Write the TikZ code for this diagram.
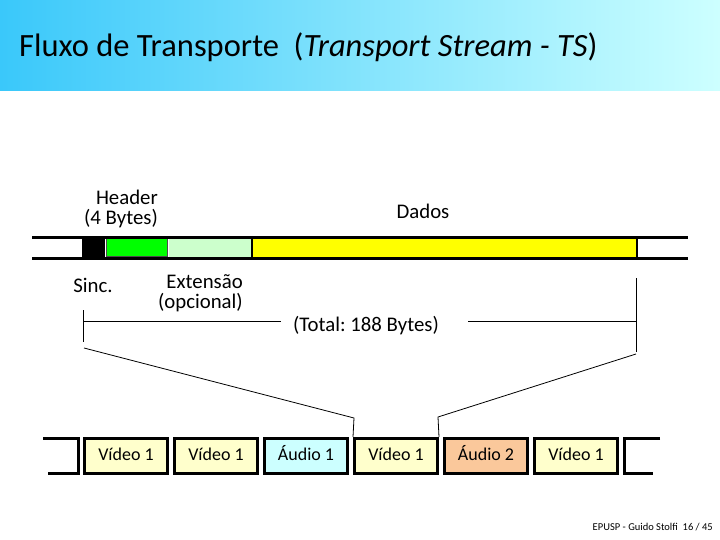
\documentclass[tikz,border=0pt]{standalone}
\usepackage{fontspec}
\setmainfont{Carlito}
\usetikzlibrary{positioning}
\definecolor{tsSky}{RGB}{58,200,250}
\definecolor{tsIce}{RGB}{205,255,255}
\definecolor{tsGreen}{RGB}{0,255,0}
\definecolor{tsMint}{RGB}{204,255,204}
\definecolor{tsYellow}{RGB}{255,255,0}
\definecolor{tsCream}{RGB}{255,255,204}
\definecolor{tsCyan}{RGB}{204,255,255}
\definecolor{tsPeach}{RGB}{250,200,155}
\tikzset{
  lbl/.style={inner sep=0pt, font=\fontsize{20.8}{20}\selectfont},
  pkt/.style={draw=black, line width=3pt, minimum width=83pt, minimum height=35pt,
    inner sep=0pt, text height=12pt, text depth=3pt, font=\fontsize{18}{18}\selectfont},
  band/.style={line width=3pt},
  brace/.style={line width=0.8pt}
}
\frenchspacing

\begin{document}
\begin{tikzpicture}[x=1pt,y=-1pt]
  \useasboundingbox (0,0) rectangle (720,540);

  % Title bar
  \shade[left color=tsSky, right color=tsIce] (0,0) rectangle (720,91);
  \node[anchor=base west, inner sep=0pt, font=\fontsize{32.5}{36}\selectfont] (title) at (19,57)
    {Fluxo de Transporte\ \ (\textit{Transport Stream - TS})};

  % Packet: header + data
  \fill[black] (82,238) rectangle (105,257);
  \filldraw[tsGreen, draw=black!70, line width=0.6pt] (106,238.5) rectangle (167,256.5);
  \fill[tsMint] (169,238) rectangle (251,257);
  \fill[tsYellow] (252,238) rectangle (636,257);
  \draw[line width=2pt] (251.5,238) -- (251.5,257);
  \draw[line width=2pt] (637,238) -- (637,257);
  \draw[band] (32,237) -- (688,237);
  \draw[band] (32,258) -- (688,258);

  \node[lbl, align=right, anchor=north east] (header) at (158,190) {Header\\(4 Bytes)};
  \node[lbl] (dados) at (423,211) {Dados};
  \node[lbl] (sinc) at (93,285) {Sinc.};
  \node[lbl, align=right, anchor=north east] (ext) at (243,274) {Extensão\\(opcional)};
  \node[lbl] (total) at (366,326) {(Total: 188 Bytes)};

  % Bracket over the whole packet
  \coordinate (brLtop) at (83.5,310);
  \coordinate (brLbot) at (83.5,342);
  \coordinate (brRtop) at (636,278);
  \coordinate (brRbot) at (636,352);
  \draw[brace] (brLtop) -- (brLbot);
  \draw[brace] (brRtop) -- (brRbot);
  \draw[brace] (83.5,321.5) -- (281,321.5);
  \draw[brace] (468,321.5) -- (636,321.5);

  % Stream of packets
  \node[pkt, fill=tsCream] (v1) at (126,456) {Vídeo 1};
  \node[pkt, fill=tsCream] (v2) at (216,456) {Vídeo 1};
  \node[pkt, fill=tsCyan]  (a1) at (306,456) {Áudio 1};
  \node[pkt, fill=tsCream] (v3) at (396,456) {Vídeo 1};
  \node[pkt, fill=tsPeach] (a2) at (486,456) {Áudio 2};
  \node[pkt, fill=tsCream] (v4) at (576,456) {Vídeo 1};

  % Open ends
  \draw[line width=3pt] (43,438.5) -- (78.5,438.5) -- (78.5,473.5) -- (48,473.5);
  \draw[line width=3pt] (660,438.5) -- (624.5,438.5) -- (624.5,473.5) -- (653,473.5);

  % Zoom lines
  \draw[brace] (84,348) -- (354,418) -- (v3.north west);
  \draw[brace] (636,354) -- (438,417) -- (v3.north east);

  % Footer
  \node[anchor=base east, inner sep=0pt, font=\fontsize{10.5}{12}\selectfont] (foot) at (713,530)
    {EPUSP - Guido Stolfi\ \ 16 / 45};
\end{tikzpicture}
\end{document}
